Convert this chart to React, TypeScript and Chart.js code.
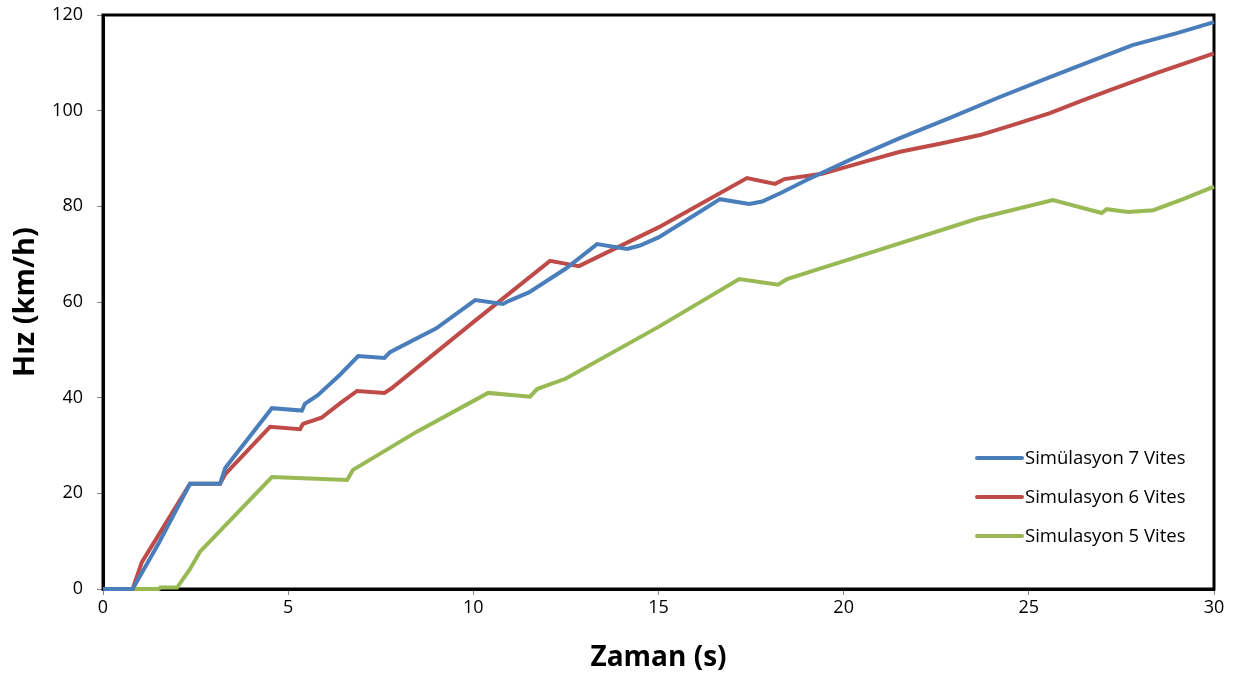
import React, { useEffect, useRef } from "react";
import { Chart, registerables } from "chart.js";

Chart.register(...registerables);

const seriesLabels = ["Simülasyon 7 Vites", "Simulasyon 6 Vites", "Simulasyon 5 Vites"];
const seriesColors = ["#4A7EBB", "#BE4B48", "#98B954"];

const blueTime = [0, 0.8, 1.5, 2.35, 3.16, 3.3, 4.56, 5.37, 5.45, 5.8, 6.4, 6.89, 7.6, 7.75, 9.0, 10.05, 10.8, 10.95, 11.5, 12.5, 13.34, 14.15, 14.5, 15.0, 16.0, 16.66, 17.45, 17.8, 18.3, 19.0, 20.17, 21.5, 22.87, 24.2, 25.57, 26.7, 27.8, 29.0, 30];
const blueSpeed = [0, 0, 9.5, 22, 22, 25.3, 37.8, 37.3, 38.7, 40.5, 44.8, 48.7, 48.3, 49.5, 54.5, 60.4, 59.6, 60.2, 62, 67, 72.1, 71.1, 71.8, 73.5, 78.3, 81.5, 80.5, 81, 82.8, 85.5, 89.7, 94.2, 98.5, 102.8, 107, 110.4, 113.7, 116.2, 118.5];

const redTime = [0, 0.8, 1.05, 2.35, 3.16, 3.3, 4.51, 5.32, 5.4, 5.9, 6.4, 6.86, 7.6, 7.8, 10.0, 12.07, 12.85, 15.0, 17.39, 18.15, 18.4, 19.42, 20.5, 21.52, 22.6, 23.68, 24.6, 25.57, 26.4, 27.19, 28.5, 30];
const redSpeed = [0, 0, 5.6, 22, 22, 24, 33.9, 33.4, 34.5, 35.8, 38.8, 41.4, 41, 42, 55.8, 68.6, 67.5, 75.6, 85.9, 84.7, 85.7, 86.8, 89.2, 91.4, 93.1, 94.9, 97.1, 99.5, 102, 104.3, 108, 112];

const greenTime = [0, 1.5, 1.55, 2.0, 2.35, 2.62, 4.56, 6.59, 6.75, 8.5, 10.4, 11.53, 11.72, 12.5, 15.0, 17.18, 18.23, 18.47, 21.0, 23.6, 25.65, 26.97, 27.1, 27.68, 28.36, 29.2, 30];
const greenSpeed = [0, 0, 0.3, 0.3, 4.2, 7.8, 23.4, 22.8, 24.9, 33.0, 41.0, 40.2, 41.8, 44.0, 54.8, 64.8, 63.6, 64.8, 71.0, 77.4, 81.3, 78.6, 79.4, 78.8, 79.2, 81.6, 84.1];

const xTicks = [0, 5, 10, 15, 20, 25, 30];
const yTicks = [0, 20, 40, 60, 80, 100, 120];

const FONT = "'Open Sans', 'Noto Sans', sans-serif";

function toPoints(t: number[], v: number[]) {
  return t.map((x, i) => ({ x, y: v[i] }));
}

const framePlugin = {
  id: "frame",
  beforeDatasetsDraw(chart: any) {
    const { ctx, chartArea } = chart;
    ctx.save();
    ctx.strokeStyle = "#000";
    ctx.lineWidth = 3;
    ctx.strokeRect(chartArea.left, chartArea.top, chartArea.right - chartArea.left, chartArea.bottom - chartArea.top);
    ctx.restore();
  },
};

const legendPlugin = {
  id: "customLegend",
  afterDatasetsDraw(chart: any) {
    const { ctx } = chart;
    ctx.save();
    const x0 = 977;
    const x1 = 1022;
    const ys = [458, 497, 536];
    chart.data.datasets.forEach((ds: any, i: number) => {
      ctx.strokeStyle = ds.borderColor;
      ctx.lineWidth = 4;
      ctx.lineCap = "round";
      ctx.beginPath();
      ctx.moveTo(x0, ys[i]);
      ctx.lineTo(x1, ys[i]);
      ctx.stroke();
      ctx.fillStyle = "#000";
      ctx.font = `18.5px ${FONT}`;
      ctx.textBaseline = "middle";
      ctx.textAlign = "left";
      ctx.fillText(ds.label, x1 + 3, ys[i] + 1);
    });
    ctx.restore();
  },
};

export default function App() {
  const ref = useRef<HTMLCanvasElement>(null);
  useEffect(() => {
    const series = [
      [blueTime, blueSpeed],
      [redTime, redSpeed],
      [greenTime, greenSpeed],
    ];
    const chart = new Chart(ref.current!, {
      type: "line",
      data: {
        datasets: series.map(([t, v], i) => ({
          label: seriesLabels[i],
          data: toPoints(t, v),
          borderColor: seriesColors[i],
          backgroundColor: seriesColors[i],
          borderWidth: 4,
          pointRadius: 0,
          tension: 0,
          fill: false,
          clip: 6,
        })),
      },
      options: {
        animation: false,
        responsive: false,
        maintainAspectRatio: false,
        layout: { padding: { left: 0, right: 22, top: 15, bottom: 0 } },
        plugins: { legend: { display: false }, tooltip: { enabled: false } },
        scales: {
          x: {
            type: "linear",
            min: 0,
            max: 30,
            afterBuildTicks: (s: any) => {
              s.ticks = xTicks.map((value) => ({ value }));
            },
            afterFit: (s: any) => {
              s.height = 90;
              s.paddingLeft = 0;
              s.paddingRight = 0;
            },
            grid: { drawOnChartArea: false, color: "#868686", tickLength: 6 },
            border: { display: true, color: "#000", width: 3 },
            ticks: { color: "#000", font: { family: FONT, size: 18 }, padding: 2, maxRotation: 0 },
            title: {
              display: true,
              text: "Zaman (s)",
              color: "#000",
              font: { family: FONT, size: 28, weight: "bold" },
              padding: { top: 14 },
            },
          },
          y: {
            type: "linear",
            min: 0,
            max: 120,
            afterBuildTicks: (s: any) => {
              s.ticks = yTicks.map((value) => ({ value }));
            },
            afterFit: (s: any) => {
              s.width = 103;
              s.paddingTop = 0;
              s.paddingBottom = 0;
            },
            grid: { drawOnChartArea: false, color: "#868686", tickLength: 6 },
            border: { display: true, color: "#000", width: 3 },
            ticks: { color: "#000", font: { family: FONT, size: 18 }, padding: 14 },
            title: {
              display: true,
              text: "Hız (km/h)",
              color: "#000",
              font: { family: FONT, size: 29, weight: "bold" },
              padding: { top: 8, bottom: 0 },
            },
          },
        },
      },
      plugins: [framePlugin, legendPlugin],
    } as any);
    return () => chart.destroy();
  }, []);
  return (
    <div style={{ position: "fixed", left: 0, top: 0, width: 1236, height: 679, background: "#fff" }}>
      <canvas ref={ref} width={1236} height={679} style={{ width: 1236, height: 679, display: "block" }} />
    </div>
  );
}
